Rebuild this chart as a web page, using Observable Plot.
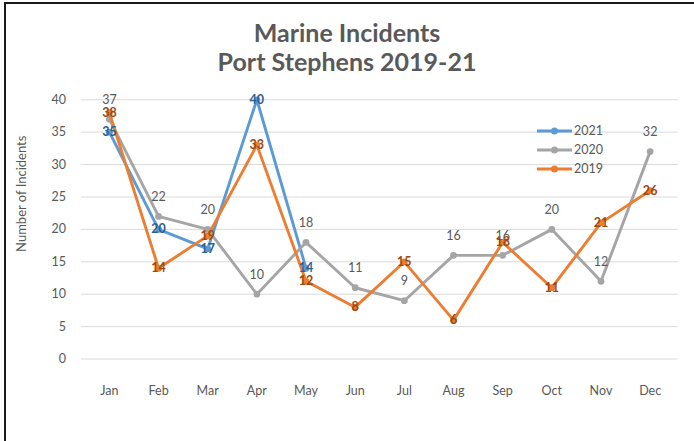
<!DOCTYPE html>
<html><head><meta charset="utf-8">
<script src="https://cdn.jsdelivr.net/npm/d3@7"></script>
<script src="https://cdn.jsdelivr.net/npm/@observablehq/plot@0.6"></script>
<style>
body{margin:0;background:#fff;overflow:hidden;}
#wrap{position:relative;width:694px;height:441px;overflow:hidden;font-family:Lato,"Open Sans",sans-serif;background:#fff;}
#title{height:80px;box-sizing:border-box;padding-top:18px;text-align:center;font-weight:bold;font-size:25px;line-height:29px;color:#595959;}
#chart svg{display:block;}
.bt{position:absolute;left:4px;top:2px;width:690px;height:2px;background:#1a1a1a}
.bl{position:absolute;left:4px;top:2px;width:2px;height:439px;background:#1a1a1a}
#legend{position:absolute;left:530px;top:120px}
</style></head><body>
<div id="wrap">
<div id="title">Marine Incidents<br>Port Stephens 2019-21</div>
<div id="chart"></div>
<div id="legend"></div>
<div class="bt"></div><div class="bl"></div>
</div>
<script>
const months = ["Jan","Feb","Mar","Apr","May","Jun","Jul","Aug","Sep","Oct","Nov","Dec"];
const years = ["2021","2020","2019"];
const v2021 = [35,20,17,40,14];
const v2020 = [37,22,20,10,18,11,9,16,16,20,12,32];
const v2019 = [38,14,19,33,12,8,15,6,18,11,21,26];
const yTicks = [0,5,10,15,20,25,30,35,40];
const colors = ["#5b9bd5","#a5a5a5","#ed7d31"];
const labelColors = ["#2f5f8f","#595959","#9a4a16"];

const series = [v2021, v2020, v2019].map((vals, i) =>
  vals.map((v, j) => ({month: months[j], value: v, year: years[i]})));

const lineMarks = series.flatMap((d, i) => [
  Plot.line(d, {x: "month", y: "value", stroke: colors[i], strokeWidth: 3}),
  Plot.dot(d, {x: "month", y: "value", fill: colors[i], r: 3.5})
]);
const labelMarks = series.map((d, i) =>
  Plot.text(d, {x: "month", y: "value", text: d => String(d.value), fill: labelColors[i],
    fontSize: 13, dy: i === 1 ? -20 : 0, fontWeight: i === 1 ? "normal" : "bold"}));

const plot = Plot.plot({
  width: 720, height: 361,
  marginLeft: 84, marginRight: 17, marginTop: 20, marginBottom: 72,
  style: {fontFamily: "Lato, sans-serif", fontSize: "13px", color: "#595959", background: "transparent"},
  x: {type: "point", domain: months, padding: 0.5, label: null},
  y: {domain: [0, 40], label: null},
  marks: [
    Plot.ruleY(yTicks, {stroke: "#d9d9d9", strokeWidth: 1}),
    Plot.axisY({ticks: yTicks, tickSize: 0, tickPadding: 16, fontSize: 13}),
    Plot.axisX({tickSize: 0, tickPadding: 28, fontSize: 13}),
    Plot.text(["Number of Incidents"], {frameAnchor: "left", textAnchor: "middle", dx: -62, dy: -37, rotate: -90, fontSize: 13.5, fill: "#595959"}),
    ...lineMarks,
    ...labelMarks
  ]
});
document.getElementById("chart").appendChild(plot);

// legend
const lg = d3.select("#legend").append("svg").attr("width", 120).attr("height", 60)
  .style("font-family", "Lato, sans-serif").style("font-size", "12.5px");
years.forEach((y, i) => {
  const g = lg.append("g").attr("transform", `translate(0,${11 + i * 19})`);
  g.append("line").attr("x1", 7).attr("x2", 42).attr("stroke", colors[i]).attr("stroke-width", 3);
  g.append("circle").attr("cx", 24.5).attr("r", 3.5).attr("fill", colors[i]);
  g.append("text").attr("x", 44).attr("dy", "0.35em").attr("fill", "#595959").text(y);
});
</script>
</body></html>
